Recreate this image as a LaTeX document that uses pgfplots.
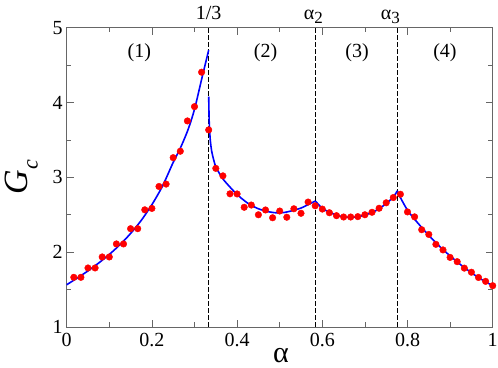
\documentclass[border=0pt]{standalone}
\usepackage{fontspec}
\setmainfont{Liberation Serif}
\usepackage{pgfplots}
\pgfplotsset{compat=1.18}
\begin{document}
\begin{tikzpicture}
\useasboundingbox (-66.7bp,-41bp) rectangle (431.3bp,327bp);
\begin{axis}[
  scale only axis,
  width=426bp, height=299.3bp,
  xmin=0, xmax=1, ymin=1, ymax=5,
  xtick={0,0.2,0.4,0.6,0.8,1},
  xticklabels={0,0.2,0.4,0.6,0.8,1},
  ytick={1,2,3,4,5},
  minor x tick num=1, minor y tick num=1,
  tick align=inside,
  major tick length=7bp, minor tick length=4.5bp,
  axis line style={black!60, line width=1bp},
  tick style={black!60, line width=0.8bp},
  tick label style={font=\fontsize{20bp}{22bp}\selectfont, black},
  xticklabel style={inner sep=1bp, yshift=-5bp},
  yticklabel style={inner sep=1bp, xshift=-3bp},
  /pgf/number format/assume math mode=true,
  clip=false,
  xlabel={\fontsize{30bp}{30bp}\selectfont α},
  xlabel style={at={(axis description cs:0.503,-0.118)}, anchor=base},
  ylabel={\fontsize{34bp}{34bp}\selectfont\textit{G}\raisebox{-10bp}{\fontsize{22bp}{22bp}\selectfont\textit{c}}},
  ylabel style={at={(axis description cs:-0.092,0.5)}, anchor=base, rotate=0},
]
% dashed separators
\addplot[black, line width=0.8bp, dash pattern=on 4.5bp off 2.5bp] coordinates {(0.33333,1) (0.33333,5)};
\addplot[black, line width=0.8bp, dash pattern=on 4.5bp off 2.5bp] coordinates {(0.5837,1) (0.5837,5)};
\addplot[black, line width=0.8bp, dash pattern=on 4.5bp off 2.5bp] coordinates {(0.776,1) (0.776,5)};
% theory curve
\addplot[blue, line width=1.6bp, smooth, tension=0.5] coordinates {
(0,1.565) (0.025,1.655) (0.05,1.75) (0.075,1.855) (0.1,1.97) (0.125,2.10)
(0.15,2.25) (0.175,2.425) (0.2,2.635) (0.225,2.885) (0.25,3.20) (0.2667,3.39)
(0.285,3.64) (0.3,3.91) (0.3167,4.31) (0.3333,4.70)};
\addplot[blue, line width=1.6bp, smooth, tension=0.4] coordinates {
(0.33333,4.08) (0.3345,3.75) (0.337,3.50) (0.341,3.33) (0.35,3.14) (0.3667,2.98)
(0.3833,2.87) (0.4,2.77) (0.4167,2.69) (0.43,2.635) (0.45,2.58) (0.47,2.545)
(0.49,2.527) (0.51,2.53) (0.53,2.555) (0.55,2.59) (0.5667,2.635) (0.5837,2.684)};
\addplot[blue, line width=1.6bp, smooth, tension=0.4] coordinates {
(0.5837,2.684) (0.6,2.585) (0.6167,2.535) (0.6333,2.495) (0.65,2.472) (0.6667,2.465)
(0.6833,2.472) (0.7,2.497) (0.7167,2.53) (0.7333,2.58) (0.75,2.65) (0.7667,2.735) (0.776,2.82)};
\addplot[blue, line width=1.6bp, smooth, tension=0.4] coordinates {
(0.776,2.82) (0.7833,2.73) (0.8,2.56) (0.8167,2.44) (0.8333,2.33) (0.85,2.225)
(0.8667,2.125) (0.8833,2.035) (0.9,1.95) (0.9167,1.87) (0.9333,1.795) (0.95,1.725)
(0.9667,1.66) (0.9833,1.605) (1.0,1.552)};
% simulation points
\addplot[only marks, mark=*, mark size=3.3bp, draw=red, fill=red] coordinates {
(0.01667,1.664) (0.03333,1.664) (0.05,1.789) (0.06667,1.789) (0.08333,1.936) (0.1,1.936)
(0.11667,2.11) (0.13333,2.11) (0.15,2.314) (0.16667,2.314) (0.18333,2.566) (0.2,2.585)
(0.21667,2.878) (0.23333,2.91) (0.25,3.263) (0.26667,3.349) (0.28333,3.754) (0.3,3.945)
(0.31667,4.405) (0.33333,3.634) (0.35,3.12) (0.36667,3.02) (0.38333,2.78) (0.4,2.778)
(0.41667,2.60) (0.43333,2.63) (0.45,2.50) (0.46667,2.564) (0.48333,2.46) (0.5,2.55)
(0.51667,2.467) (0.53333,2.58) (0.55,2.52) (0.56667,2.67) (0.58333,2.62) (0.6,2.576)
(0.61667,2.527) (0.63333,2.488) (0.65,2.47) (0.66667,2.47) (0.68333,2.475) (0.7,2.50)
(0.71667,2.533) (0.73333,2.587) (0.75,2.66) (0.76667,2.73) (0.78333,2.774) (0.8,2.538)
(0.81667,2.472) (0.83333,2.30) (0.85,2.237) (0.86667,2.105) (0.88333,2.03) (0.9,1.93)
(0.91667,1.873) (0.93333,1.787) (0.95,1.732) (0.96667,1.662) (0.98333,1.61) (1.0,1.552)};
% annotations
\begin{scope}[every node/.style={font=\fontsize{20bp}{22bp}\selectfont}]
\node at (axis cs:0.1706,4.663) {(1)};
\node at (axis cs:0.4667,4.663) {(2)};
\node at (axis cs:0.6815,4.663) {(3)};
\node at (axis cs:0.888,4.663) {(4)};
\node[anchor=base] at (axis cs:0.3333,5.112) {1/3};
\node[anchor=base] at (axis cs:0.579,5.112) {α\raisebox{-4bp}{\fontsize{17bp}{17bp}\selectfont 2}};
\node[anchor=base] at (axis cs:0.760,5.112) {α\raisebox{-4bp}{\fontsize{17bp}{17bp}\selectfont 3}};
\end{scope}
\end{axis}
\end{tikzpicture}
\end{document}
